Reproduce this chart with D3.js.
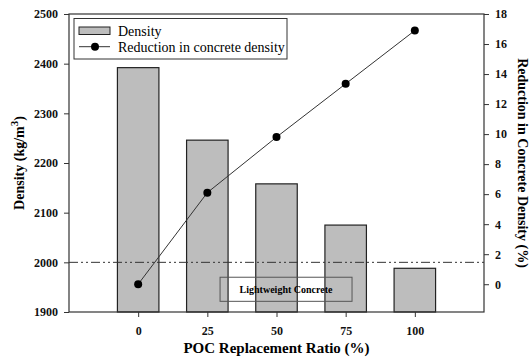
<!DOCTYPE html>
<html>
<head>
<meta charset="utf-8">
<script src="https://cdn.jsdelivr.net/npm/d3@7"></script>
</head>
<body style="margin:0;background:#fff">
<svg id="chart" width="529" height="360" style="display:block"></svg>
<script>
// POC replacement ratios (%)
const ratios = [0, 25, 50, 75, 100];
// Concrete density (kg/m³) per replacement ratio
const density = [2392, 2246, 2158, 2075, 1988];
// Reduction in concrete density (%) relative to the control mix
const reduction = [0.0, 6.1, 9.8, 13.35, 16.9];
// Axis ticks
const densityTicks = [1900, 2000, 2100, 2200, 2300, 2400, 2500];
const reductionTicks = [0, 2, 4, 6, 8, 10, 12, 14, 16, 18];
// Lightweight concrete threshold (kg/m³)
const lightweightLimit = [2000];

const serif = '"Liberation Serif"';
const font = (sel, size, bold) => sel
  .style("font-family", serif)
  .style("font-size", size + "px")
  .style("font-weight", bold ? "bold" : "normal");

const svg = d3.select("#chart");
const m = { left: 69, right: 484, top: 14, bottom: 312 };

const x = d3.scaleLinear().domain([-25, 125]).range([m.left, m.right]);
const yL = d3.scaleLinear().domain([1900, 2500]).range([m.bottom, m.top]);
const yR = d3.scaleLinear().domain([-1.85, 18]).range([m.bottom, m.top]);
const barW = x(15) - x(0);

// Bars
svg.append("g").selectAll("rect").data(ratios).join("rect")
  .attr("x", (d) => x(d) - barW / 2)
  .attr("y", (d, i) => yL(density[i]))
  .attr("width", barW)
  .attr("height", (d, i) => yL(1900) - yL(density[i]))
  .attr("fill", "#bdbdbd")
  .attr("stroke", "#222")
  .attr("stroke-width", 1.2);

// Threshold line
svg.append("g").selectAll("line").data(lightweightLimit).join("line")
  .attr("x1", m.left).attr("x2", m.right)
  .attr("y1", (d) => yL(d)).attr("y2", (d) => yL(d))
  .attr("stroke", "#333").attr("stroke-width", 1)
  .attr("stroke-dasharray", "9,3,2,3,2,3");

// Lightweight concrete label box
const lwBox = svg.append("g");
lwBox.append("rect")
  .attr("x", x(29.6)).attr("y", yL(1970))
  .attr("width", x(77.3) - x(29.6)).attr("height", yL(1921.5) - yL(1970))
  .attr("fill", "none").attr("stroke", "#555").attr("stroke-width", 1);
lwBox.append("text")
  .attr("x", (x(29.6) + x(77.3)) / 2).attr("y", yL(1946) + 3.5)
  .attr("text-anchor", "middle")
  .call(font, 10, true)
  .text("Lightweight Concrete");

// Reduction line and markers
const line = d3.line().x((d, i) => x(ratios[i])).y((d) => yR(d));
svg.append("path").datum(reduction)
  .attr("d", line).attr("fill", "none").attr("stroke", "#333").attr("stroke-width", 1);
svg.append("g").selectAll("circle").data(reduction).join("circle")
  .attr("cx", (d, i) => x(ratios[i])).attr("cy", (d) => yR(d))
  .attr("r", 4).attr("fill", "#000");

// Frame
svg.append("rect")
  .attr("x", m.left).attr("y", m.top)
  .attr("width", m.right - m.left).attr("height", m.bottom - m.top)
  .attr("fill", "none").attr("stroke", "#333").attr("stroke-width", 1.2);

// Axes
const styleAxis = (g) => {
  g.select(".domain").remove();
  g.selectAll(".tick line").attr("stroke", "#333");
  g.selectAll(".tick text").attr("fill", "#111").call(font, 12, true);
};
svg.append("g").attr("transform", `translate(${m.left},0)`)
  .call(d3.axisLeft(yL).tickValues(densityTicks).tickSize(5).tickPadding(6).tickFormat(d3.format("d")))
  .call(styleAxis);
svg.append("g").attr("transform", `translate(${m.right},0)`)
  .call(d3.axisRight(yR).tickValues(reductionTicks).tickSize(5).tickPadding(6).tickFormat(d3.format("d")))
  .call(styleAxis);
svg.append("g").attr("transform", `translate(0,${m.bottom})`)
  .call(d3.axisBottom(x).tickValues(ratios).tickSize(5).tickPadding(9).tickFormat(d3.format("d")))
  .call(styleAxis);

// Axis titles
svg.append("text")
  .attr("x", (m.left + m.right) / 2).attr("y", 353)
  .attr("text-anchor", "middle")
  .call(font, 15, true)
  .text("POC Replacement Ratio (%)");

const yTitle = svg.append("text")
  .attr("transform", `translate(24,${(m.top + m.bottom) / 2}) rotate(-90)`)
  .attr("text-anchor", "middle")
  .call(font, 14, true);
yTitle.append("tspan").text("Density (kg/m");
yTitle.append("tspan").attr("dy", -6).style("font-size", "11px").text("3");
yTitle.append("tspan").attr("dy", 6).text(")");

svg.append("text")
  .attr("transform", `translate(518,${(m.top + m.bottom) / 2}) rotate(90)`)
  .attr("text-anchor", "middle")
  .call(font, 14, true)
  .text("Reduction in Concrete Density (%)");

// Legend
const lg = svg.append("g");
lg.append("rect").attr("x", 74).attr("y", 18.5).attr("width", 213).attr("height", 40.5)
  .attr("fill", "#fff").attr("stroke", "#333").attr("stroke-width", 1);
lg.append("rect").attr("x", 79).attr("y", 27).attr("width", 31).attr("height", 7.5)
  .attr("fill", "#bdbdbd").attr("stroke", "#222").attr("stroke-width", 1);
lg.append("text").attr("x", 118).attr("y", 36)
  .call(font, 14, false).text("Density");
lg.append("line").attr("x1", 79).attr("x2", 110).attr("y1", 46.7).attr("y2", 46.7)
  .attr("stroke", "#333").attr("stroke-width", 1);
lg.append("circle").attr("cx", 95).attr("cy", 46.7).attr("r", 4).attr("fill", "#000");
lg.append("text").attr("x", 118).attr("y", 51.5)
  .call(font, 14, false).text("Reduction in concrete density");
</script>
</body>
</html>
